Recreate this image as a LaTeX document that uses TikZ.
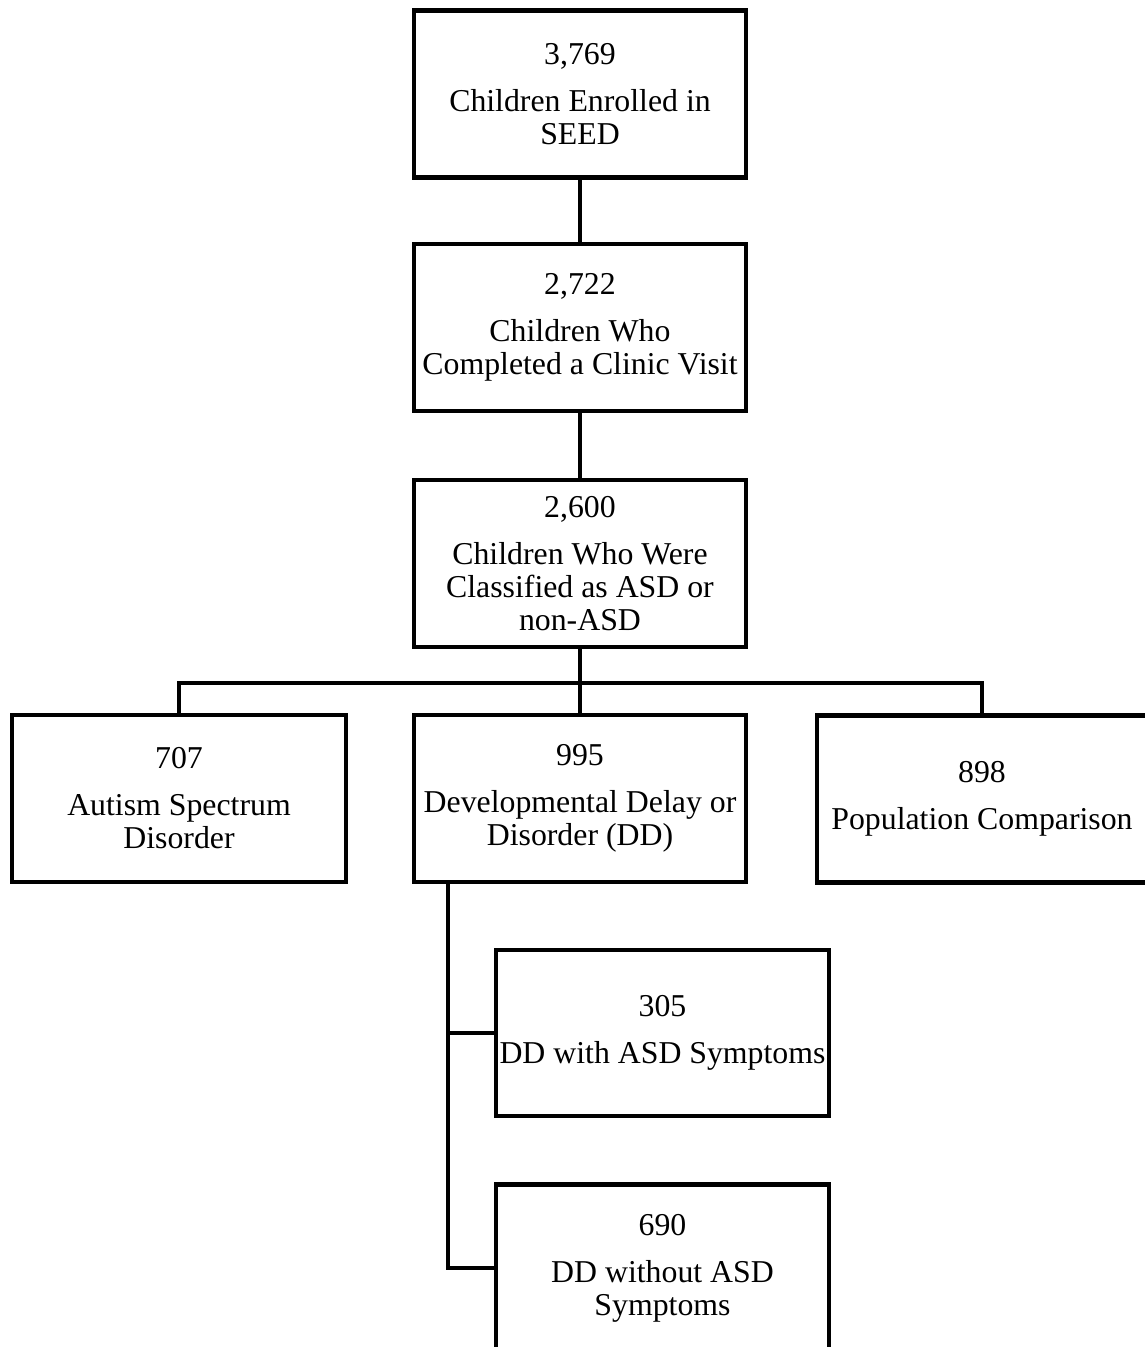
\documentclass[tikz,border=0pt]{standalone}
\usepackage{fontspec}
\setmainfont{Liberation Serif}
\begin{document}
\begin{tikzpicture}[x=0.02cm,y=-0.02cm,
  box/.style={draw, line width=2.5pt, line join=miter, minimum width=6.64cm, minimum height=3.34cm, inner sep=0pt, align=center, font=\fontsize{18.1}{18.8}\selectfont},
  link/.style={line width=2.5pt, line join=miter}]
\clip (0,0) rectangle (1145,1347);
\node[box] (b1) at (580,94) {3,769\\[0.28cm]Children Enrolled in\\SEED};
\node[box] (b2) at (580,327.5) {2,722\\[0.28cm]Children Who\\Completed a Clinic Visit};
\node[box] (b3) at (580,563.5) {2,600\\[0.28cm]Children Who Were\\Classified as ASD or\\non-ASD};
\node[box, minimum width=6.68cm] (b4) at (179,798.5) {707\\[0.28cm]Autism Spectrum\\Disorder};
\node[box] (b5) at (580,798.5) {995\\[0.28cm]Developmental Delay or\\Disorder (DD)};
\node[box, minimum width=6.6cm] (b6) at (982,799) {898\\[0.28cm]Population Comparison};
\node[box, minimum width=6.66cm, minimum height=3.32cm] (b7) at (662.5,1033) {305\\[0.28cm]DD with ASD Symptoms};
\node[box, minimum width=6.66cm] (b8) at (662.5,1268) {690\\[0.28cm]DD without ASD\\Symptoms};
\coordinate (j) at (580,683);
\coordinate (d) at (448,882);
\draw[link] (b1.south) -- (b2.north);
\draw[link] (b2.south) -- (b3.north);
\draw[link] (b3.south) -- (j) -- (b5.north);
\draw[link] (b4.north) -- (b4.north |- j) -- (b6.north |- j) -- (b6.north);
\draw[link] (d) |- (b7.west);
\draw[link] (d) |- (b8.west);
\end{tikzpicture}
\end{document}
